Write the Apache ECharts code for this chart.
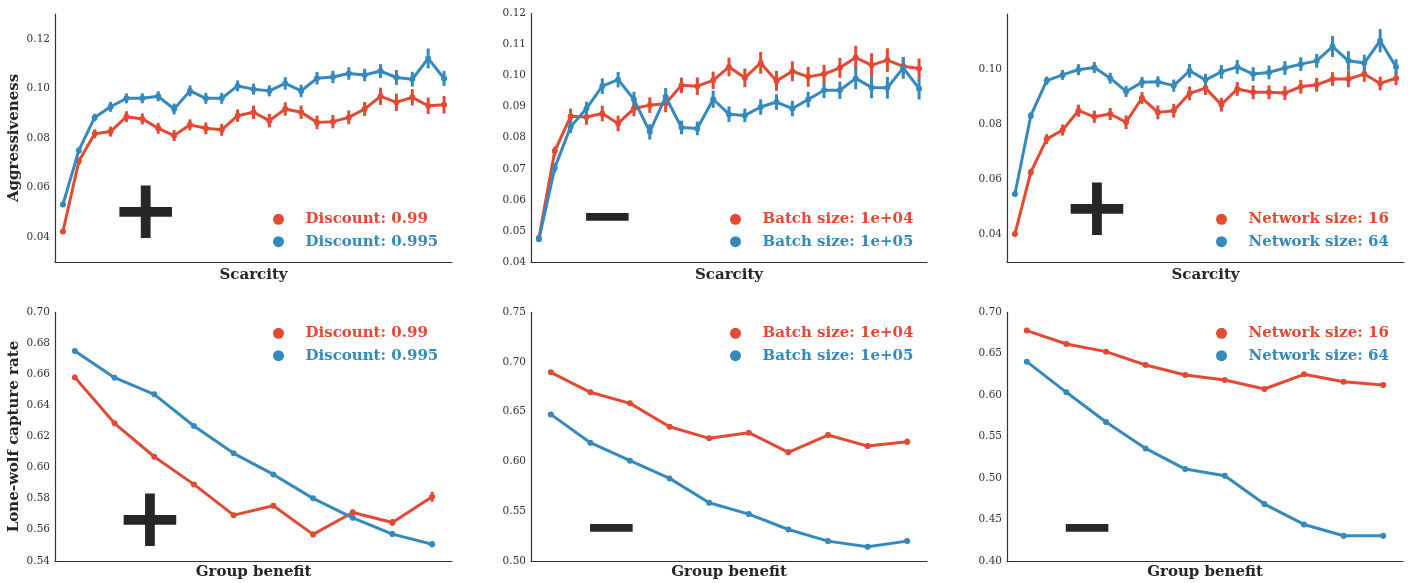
<!DOCTYPE html>
<html>
<head>
<meta charset="utf-8">
<script src="https://cdn.jsdelivr.net/npm/echarts@6/dist/echarts.min.js"></script>
<style>
html,body{margin:0;padding:0;background:#fff;}
#chart{width:1408px;height:583px;}
</style>
</head>
<body>
<div id="chart"></div>
<script>
// ---------- DATA ----------
const scarcityCats = Array.from({length:25},(_, i)=>String(i+1));
const benefitCats = Array.from({length:10},(_, i)=>String(i+1));

// Top-left: Discount
const tlNames = ['Discount: 0.99','Discount: 0.995'];
const tlRed  = [0.0423,0.0706,0.0817,0.0826,0.0886,0.0877,0.0839,0.0810,0.0853,0.0839,0.0833,0.0890,0.0904,0.0870,0.0917,0.0904,0.0863,0.0866,0.0883,0.0917,0.0968,0.0944,0.0964,0.0930,0.0934];
const tlBlue = [0.0532,0.0750,0.0883,0.0926,0.0960,0.0960,0.0968,0.0917,0.0990,0.0960,0.0960,0.1010,0.0997,0.0990,0.1020,0.0990,0.1041,0.1046,0.1060,0.1054,0.1070,0.1044,0.1037,0.1121,0.1040];
const tlRedErr  = [0.0008,0.0015,0.0018,0.0020,0.0022,0.0022,0.0022,0.0022,0.0022,0.0024,0.0024,0.0025,0.0027,0.0027,0.0027,0.0027,0.0027,0.0027,0.0028,0.0028,0.0035,0.0035,0.0033,0.0033,0.0035];
const tlBlueErr = [0.0008,0.0012,0.0015,0.0020,0.0020,0.0020,0.0020,0.0022,0.0022,0.0022,0.0022,0.0022,0.0022,0.0022,0.0025,0.0025,0.0025,0.0025,0.0025,0.0025,0.0028,0.0030,0.0030,0.0040,0.0030];

// Top-middle: Batch size
const tmNames = ['Batch size: 1e+04','Batch size: 1e+05'];
const tmRed  = [0.0477,0.0757,0.0869,0.0867,0.0878,0.0846,0.0894,0.0905,0.0910,0.0969,0.0966,0.0985,0.1028,0.0993,0.1041,0.0983,0.1014,0.0996,0.1005,0.1025,0.1058,0.1034,0.1050,0.1030,0.1023];
const tmBlue = [0.0473,0.0703,0.0835,0.0894,0.0966,0.0987,0.0923,0.0819,0.0932,0.0833,0.0830,0.0924,0.0876,0.0872,0.0899,0.0915,0.0894,0.0923,0.0953,0.0953,0.0991,0.0962,0.0961,0.1025,0.0958];
const tmRedErr  = [0.0008,0.0015,0.0025,0.0025,0.0025,0.0025,0.0025,0.0025,0.0028,0.0025,0.0028,0.0028,0.0030,0.0030,0.0035,0.0032,0.0032,0.0032,0.0030,0.0032,0.0038,0.0038,0.0038,0.0030,0.0032];
const tmBlueErr = [0.0008,0.0015,0.0020,0.0022,0.0025,0.0025,0.0025,0.0025,0.0028,0.0022,0.0022,0.0028,0.0025,0.0022,0.0025,0.0025,0.0025,0.0025,0.0025,0.0028,0.0035,0.0035,0.0035,0.0035,0.0035];

// Top-right: Network size
const trNames = ['Network size: 16','Network size: 64'];
const trRed  = [0.0402,0.0626,0.0746,0.0779,0.0849,0.0827,0.0837,0.0807,0.0895,0.0843,0.0849,0.0912,0.0931,0.0871,0.0928,0.0916,0.0916,0.0913,0.0936,0.0943,0.0964,0.0964,0.0982,0.0948,0.0967];
const trBlue = [0.0547,0.0831,0.0958,0.0979,0.0998,0.1006,0.0967,0.0919,0.0952,0.0954,0.0940,0.0994,0.0961,0.0990,0.1008,0.0982,0.0988,0.1004,0.1018,0.1030,0.1082,0.1030,0.1022,0.1103,0.1008];
const trRedErr  = [0.0006,0.0012,0.0018,0.0020,0.0022,0.0022,0.0022,0.0025,0.0022,0.0025,0.0025,0.0025,0.0025,0.0025,0.0025,0.0025,0.0025,0.0025,0.0025,0.0025,0.0025,0.0030,0.0028,0.0025,0.0025];
const trBlueErr = [0.0008,0.0012,0.0015,0.0018,0.0020,0.0020,0.0020,0.0020,0.0020,0.0020,0.0022,0.0025,0.0022,0.0025,0.0025,0.0025,0.0025,0.0025,0.0025,0.0025,0.0038,0.0035,0.0030,0.0042,0.0028];

// Bottom-left: Discount
const blRed  = [0.6581,0.6285,0.6070,0.5892,0.5694,0.5754,0.5570,0.5711,0.5647,0.5812];
const blBlue = [0.6751,0.6579,0.6472,0.6268,0.6092,0.5956,0.5802,0.5677,0.5572,0.5507];
const blRedErr  = [0.0015,0.0015,0.0015,0.0015,0.0015,0.0015,0.0018,0.0020,0.0022,0.0032];
const blBlueErr = [0.0012,0.0012,0.0012,0.0013,0.0013,0.0013,0.0015,0.0015,0.0018,0.0020];

// Bottom-middle: Batch size
const bmRed  = [0.6896,0.6695,0.6584,0.6349,0.6232,0.6289,0.6091,0.6265,0.6154,0.6198];
const bmBlue = [0.6473,0.6188,0.6007,0.5829,0.5584,0.5470,0.5315,0.5198,0.5141,0.5198];
const bmRedErr  = [0.0025,0.0025,0.0025,0.0025,0.0025,0.0025,0.0028,0.0028,0.0028,0.0030];
const bmBlueErr = [0.0025,0.0025,0.0025,0.0025,0.0025,0.0025,0.0025,0.0025,0.0025,0.0025];

// Bottom-right: Network size
const brRed  = [0.6779,0.6617,0.6525,0.6364,0.6243,0.6183,0.6074,0.6251,0.6162,0.6122];
const brBlue = [0.6404,0.6034,0.5675,0.5357,0.5107,0.5027,0.4685,0.4439,0.4302,0.4302];
const brRedErr  = [0.0025,0.0025,0.0025,0.0025,0.0025,0.0025,0.0025,0.0028,0.0028,0.0028];
const brBlueErr = [0.0028,0.0028,0.0028,0.0028,0.0028,0.0030,0.0030,0.0030,0.0035,0.0035];

// Tick labels shown on each y axis
const tlTicks = ['0.04','0.06','0.08','0.10','0.12'];
const tmTicks = ['0.04','0.05','0.06','0.07','0.08','0.09','0.10','0.11','0.12'];
const trTicks = ['0.04','0.06','0.08','0.10'];
const blTicks = ['0.54','0.56','0.58','0.60','0.62','0.64','0.66','0.68','0.70'];
const bmTicks = ['0.50','0.55','0.60','0.65','0.70','0.75'];
const brTicks = ['0.40','0.45','0.50','0.55','0.60','0.65','0.70'];

// Sign annotations
const signs = ['+','−','+','+','−','−'];

// ---------- STYLE ----------
const RED = '#E24A33', BLUE = '#348ABD', INK = '#262626';
const SERIF = '"DejaVu Serif", serif';

const panels = [
  {cats:scarcityCats, names:tlNames, red:tlRed, blue:tlBlue, rErr:tlRedErr, bErr:tlBlueErr, ticks:tlTicks, min:0.03, max:0.13, iv:0.01,
   grid:{left:55, top:14, width:397, height:248}, xName:'Scarcity', yName:'Aggressiveness', leg:[290, 214.3]},
  {cats:scarcityCats, names:tmNames, red:tmRed, blue:tmBlue, rErr:tmRedErr, bErr:tmBlueErr, ticks:tmTicks, min:0.04, max:0.12, iv:0.01,
   grid:{left:531, top:13.5, width:396, height:248.5}, xName:'Scarcity', yName:'', leg:[747, 214.3]},
  {cats:scarcityCats, names:trNames, red:trRed, blue:trBlue, rErr:trRedErr, bErr:trBlueErr, ticks:trTicks, min:0.03, max:0.12, iv:0.01,
   grid:{left:1007, top:14, width:397, height:248}, xName:'Scarcity', yName:'', leg:[1233, 214.3]},
  {cats:benefitCats, names:tlNames, red:blRed, blue:blBlue, rErr:blRedErr, bErr:blBlueErr, ticks:blTicks, min:0.54, max:0.70, iv:0.02,
   grid:{left:55, top:312.3, width:397, height:248.5}, xName:'Group benefit', yName:'Lone-wolf capture rate', leg:[290, 328.3]},
  {cats:benefitCats, names:tmNames, red:bmRed, blue:bmBlue, rErr:bmRedErr, bErr:bmBlueErr, ticks:bmTicks, min:0.50, max:0.75, iv:0.05,
   grid:{left:531, top:312.3, width:396, height:248.5}, xName:'Group benefit', yName:'', leg:[747, 328.3]},
  {cats:benefitCats, names:trNames, red:brRed, blue:brBlue, rErr:brRedErr, bErr:brBlueErr, ticks:brTicks, min:0.40, max:0.70, iv:0.05,
   grid:{left:1007, top:312.3, width:396, height:248.5}, xName:'Group benefit', yName:'', leg:[1233, 328.3]}
];

// sign positions (center) and font sizes
const signPos = [
  {x:145.8, y:216.3, size:84},
  {x:607.5, y:220.2, size:68},
  {x:1097,  y:213.5, size:84},
  {x:150,   y:524.3, size:84},
  {x:611.5, y:531.2, size:68},
  {x:1087.2,y:531.2, size:68}
];

const grids = [], xAxes = [], yAxes = [], series = [], legends = [], graphics = [];

function errSeries(name, idx, vals, errs, color){
  return {
    type:'custom', name:name+' (CI)', xAxisIndex:idx, yAxisIndex:idx, z:3,
    data: vals.map((v,i)=>[i, v, errs[i]]),
    encode:{x:0, y:1},
    renderItem:function(params, api){
      const x = api.value(0), y = api.value(1), e = api.value(2);
      const p1 = api.coord([x, y - e]), p2 = api.coord([x, y + e]);
      return {type:'line', shape:{x1:p1[0], y1:p1[1], x2:p2[0], y2:p2[1]}, style:{stroke:color, lineWidth:3}};
    },
    silent:true, animation:false
  };
}

panels.forEach((p, i)=>{
  grids.push(Object.assign({containLabel:false}, p.grid));
  xAxes.push({
    type:'category', gridIndex:i, data:p.cats, boundaryGap:true,
    axisLine:{show:true, lineStyle:{color:'#333', width:1.2}},
    axisTick:{show:false}, axisLabel:{show:false}, splitLine:{show:false},
    name:p.xName, nameLocation:'middle', nameGap:i < 3 ? 6 : 4,
    nameTextStyle:{fontFamily:SERIF, fontWeight:'bold', fontSize:15, color:INK, verticalAlign:'top'}
  });
  const ticks = p.ticks;
  yAxes.push({
    type:'value', gridIndex:i, min:p.min, max:p.max, interval:p.iv,
    axisLine:{show:true, lineStyle:{color:'#333', width:1.2}},
    axisTick:{show:false}, splitLine:{show:false},
    axisLabel:{margin:5, fontFamily:SERIF, fontSize:10.5, color:'#333',
      formatter:function(v){ const s = v.toFixed(2); return ticks.indexOf(s) >= 0 ? s : ''; }},
    name:p.yName, nameLocation:'middle', nameGap:33, nameRotate:90,
    nameTextStyle:{fontFamily:SERIF, fontWeight:'bold', fontSize:15, color:INK}
  });
  series.push(errSeries(p.names[0], i, p.red, p.rErr, RED));
  series.push({type:'line', name:p.names[0], xAxisIndex:i, yAxisIndex:i, data:p.red, z:4,
    symbol:'circle', symbolSize:6, showSymbol:true, color:RED,
    lineStyle:{width:3, color:RED}, itemStyle:{color:RED}, animation:false});
  series.push(errSeries(p.names[1], i, p.blue, p.bErr, BLUE));
  series.push({type:'line', name:p.names[1], xAxisIndex:i, yAxisIndex:i, data:p.blue, z:5,
    symbol:'circle', symbolSize:6, showSymbol:true, color:BLUE,
    lineStyle:{width:3, color:BLUE}, itemStyle:{color:BLUE}, animation:false});
  legends.push({
    orient:'vertical', left:p.leg[0]-22, top:p.leg[1]-7.5,
    icon:'circle', itemWidth:44, itemHeight:11, itemGap:7.4, selectedMode:false,
    textStyle:{fontFamily:SERIF, fontWeight:'bold', fontSize:15},
    data:[{name:p.names[0], textStyle:{color:RED}}, {name:p.names[1], textStyle:{color:BLUE}}]
  });
  graphics.push({
    type:'text', x:signPos[i].x, y:signPos[i].y, silent:true, z:10,
    style:{text:signs[i], fill:INK, font:'bold '+signPos[i].size+'px "DejaVu Sans"', align:'center', verticalAlign:'middle'}
  });
});

const chart = echarts.init(document.getElementById('chart'), null, {renderer:'canvas'});
chart.setOption({
  backgroundColor:'#fff',
  animation:false,
  grid:grids, xAxis:xAxes, yAxis:yAxes, series:series, legend:legends,
  graphic:graphics
});
</script>
</body>
</html>
